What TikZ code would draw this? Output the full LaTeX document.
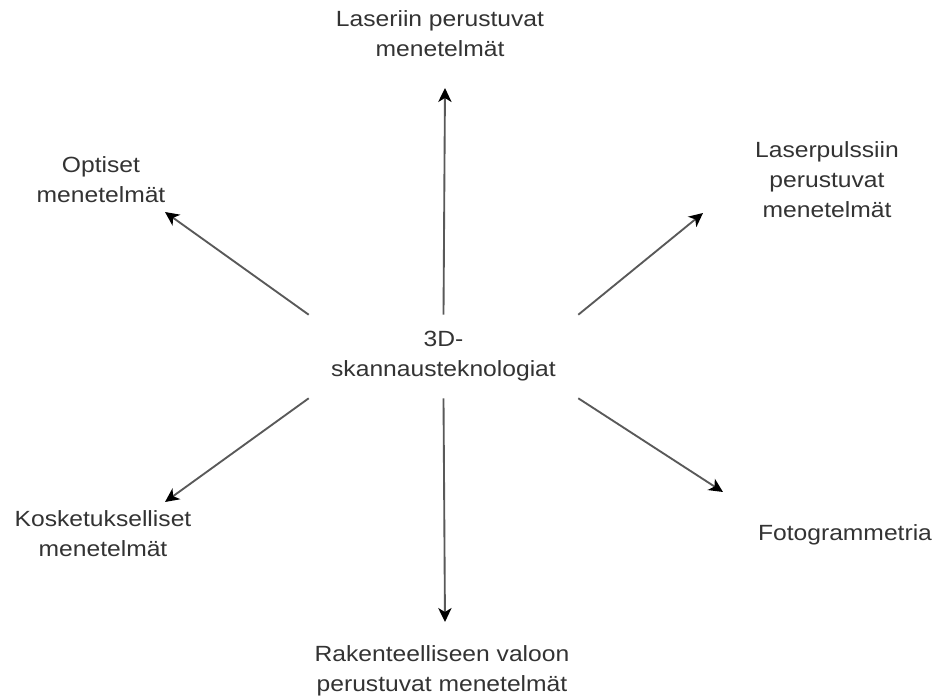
\documentclass[tikz,border=0pt]{standalone}
\usepackage{fontspec}
\setmainfont{Liberation Sans}[FakeStretch=1.12]
\usepackage{tikz}
\usetikzlibrary{positioning, arrows.meta}

\begin{document}
\begin{tikzpicture} [x = 0.75pt, y = 0.75pt, on grid,
        txt/.style = {align = center, inner sep = 0pt, text = black!80,
            font = \fontsize{16.5}{22.5}\selectfont},
        hubbox/.style = {txt, minimum width = 201.75pt, minimum height = 62.25pt},
        arr/.style = {draw = black!65, line width = 1.4pt,
            -{Stealth[length = 10.5pt, width = 10pt, inset = 3pt, color = black]}}]

        \useasboundingbox (-443.5, -340.5) rectangle (500.5, 356.5);

        \node (hub) [hubbox] {3D-\\skannausteknologiat};

        \node (laser) [txt, above left = 322.5 and 3.5 of hub] {Laseriin perustuvat\\menetelmät};
        \node (opt) [txt, above left = 176.5 and 342.5 of hub] {Optiset\\menetelmät};
        \node (pulse) [txt, above right = 176.5 and 383.5 of hub] {Laserpulssiin\\perustuvat\\menetelmät};
        \node (touch) [txt, below left = 177.5 and 340.5 of hub] {Kosketukselliset\\menetelmät};
        \node (photo) [txt, below right = 178 and 401.5 of hub] {Fotogrammetria};
        \node (struct) [txt, below left = 314.5 and 1.5 of hub] {Rakenteelliseen valoon\\perustuvat menetelmät};

        % free ends of the arrows
        \coordinate [above right = 268.5 and 1.5 of hub] (tLaser);
        \coordinate [above left = 144.5 and 278.5 of hub] (tOpt);
        \coordinate [above right = 143.5 and 259.5 of hub] (tPulse);
        \coordinate [below left = 145.5 and 278.5 of hub] (tTouch);
        \coordinate [below right = 135.5 and 279.5 of hub] (tPhoto);
        \coordinate [below right = 265.5 and 1.5 of hub] (tStruct);

        \draw [arr] (hub.north) -- (tLaser);
        \draw [arr] (hub.north west) -- (tOpt);
        \draw [arr] (hub.north east) -- (tPulse);
        \draw [arr] (hub.south west) -- (tTouch);
        \draw [arr] (hub.south east) -- (tPhoto);
        \draw [arr] (hub.south) -- (tStruct);

    \end{tikzpicture}
\end{document}
